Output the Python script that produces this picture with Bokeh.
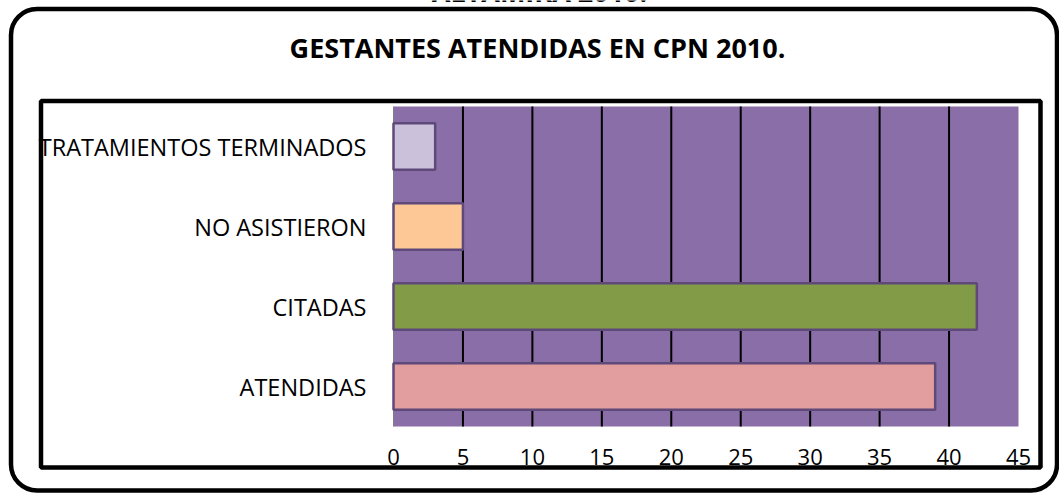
from bokeh.plotting import figure
from bokeh.models import ColumnDataSource, Range1d, Label, BoxAnnotation
from bokeh.core.properties import value
from bokeh.embed import file_html
from bokeh.resources import INLINE

# ---- data ----
categories = ["ATENDIDAS", "CITADAS", "NO ASISTIERON", "TRATAMIENTOS TERMINADOS"]
values = [39, 42, 5, 3]
bar_colors = ["#e29e9e", "#829b46", "#fdc896", "#ccc1da"]
x_ticks = [0, 5, 10, 15, 20, 25, 30, 35, 40, 45]
x_tick_labels = [str(t) for t in x_ticks]
grid_ticks = [5, 10, 15, 20, 25, 30, 35, 40]
chart_title = "GESTANTES ATENDIDAS EN CPN 2010."
super_title = "ALTAMIRA 2010."

FONT = "Open Sans"

# ---- layout (page pixels) ----
W, H = 1059, 493
PLOT_L, PLOT_R, PLOT_T, PLOT_B = 393, 1018, 106, 426
X_MAX = 45
N = len(categories)

kx = (PLOT_R - PLOT_L) / X_MAX
ky = (PLOT_B - PLOT_T) / N
x_range = Range1d(-PLOT_L / kx, X_MAX + (W - PLOT_R) / kx)
y_range = Range1d(-(H - PLOT_B) / ky, N + PLOT_T / ky)

y_pos = [i + 0.5 for i in range(N)]
source = ColumnDataSource(dict(y=y_pos, val=values, color=bar_colors))

p = figure(
    width=W, height=H, x_range=x_range, y_range=y_range,
    output_backend="svg", toolbar_location=None, title=None,
    x_axis_location=None, y_axis_location=None, min_border=0,
)
p.grid.visible = False
p.background_fill_color = "white"
p.border_fill_color = "white"
p.outline_line_color = None

# page-pixel helper ranges for the decorative frames and titles
p.extra_x_ranges = {"px": Range1d(0, W)}
p.extra_y_ranges = {"px": Range1d(H, 0)}

# plot area
p.quad(left=0, right=X_MAX, bottom=0, top=N, fill_color="#8a6ea8", line_color=None)
# value-axis line
p.segment(x0=0, y0=0, x1=0, y1=N, line_color="#7f7f7f", line_width=1)
# vertical grid lines
p.segment(x0=grid_ticks, y0=0, x1=grid_ticks, y1=N, line_color="black", line_width=2)

# bars
p.hbar(y="y", left=0, right="val", height=0.58, source=source,
       fill_color="color", line_color="#5f497a", line_width=2.5)

# category labels
p.text(x=0, y=y_pos, text=categories, x_offset=-27,
       text_align="right", text_baseline="middle",
       text_font=value(FONT), text_font_size="23.5px", text_color="black")

# value tick labels
p.text(x=x_ticks, y=0, text=x_tick_labels, y_offset=30,
       text_align="center", text_baseline="middle",
       text_font=value(FONT), text_font_size="22px", text_color="black")

# inner chart-area border
p.quad(left=40.5, right=1040, top=100.5, bottom=467,
       x_range_name="px", y_range_name="px",
       fill_color=None, line_color="black", line_width=4.5)

# outer rounded frame
p.add_layout(BoxAnnotation(left=10.5, right=1056.5, top=8.5, bottom=490,
                           x_range_name="px", y_range_name="px",
                           fill_alpha=0, line_color="black", line_alpha=1.0,
                           line_width=4.5, border_radius=26))

# titles
p.add_layout(Label(x=537, y=47, x_range_name="px", y_range_name="px",
                   text=chart_title, text_align="center",
                   text_baseline="middle", text_font=FONT,
                   text_font_style="bold", text_font_size="27px",
                   text_color="black"))
p.add_layout(Label(x=539, y=-9, x_range_name="px", y_range_name="px",
                   text=super_title, text_align="center",
                   text_baseline="middle", text_font=FONT,
                   text_font_style="bold", text_font_size="27px",
                   text_color="black"))

open("out.html", "w").write(file_html(p, INLINE))
